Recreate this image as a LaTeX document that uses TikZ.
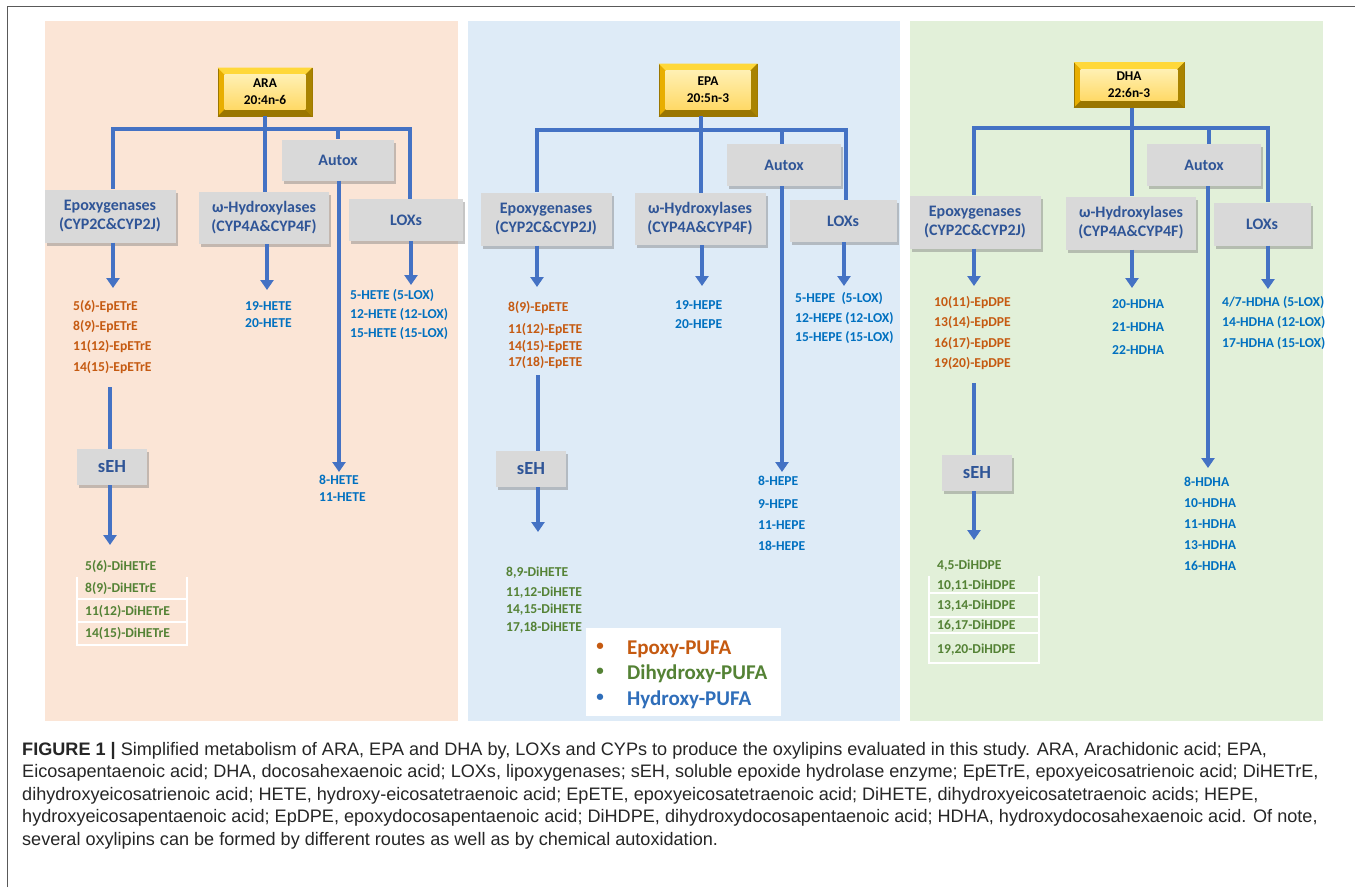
\documentclass[tikz,border=0pt]{standalone}
\usepackage{fontspec}
\setmainfont{Carlito}
\newfontfamily\capfont{Liberation Sans}
\usetikzlibrary{arrows.meta,shadows}
\definecolor{panA}{HTML}{FBE5D6}
\definecolor{panB}{HTML}{DEEBF7}
\definecolor{panC}{HTML}{E2F0D9}
\definecolor{lineblue}{HTML}{4472C4}
\definecolor{boxgray}{HTML}{D9D9D9}
\definecolor{enzblue}{HTML}{2F5597}
\definecolor{orng}{HTML}{C55A11}
\definecolor{hblue}{HTML}{0070C0}
\definecolor{grn}{HTML}{548235}
\definecolor{legblue}{HTML}{2F6EBA}
\definecolor{goldtop}{HTML}{FFD83A}
\definecolor{goldleft}{HTML}{E8AE00}
\definecolor{goldright}{HTML}{A98300}
\definecolor{goldbot}{HTML}{9A7600}
\definecolor{goldin1}{HTML}{FFF0B3}
\definecolor{goldin2}{HTML}{FFD966}
\newcommand\goldbox[5]{%
  \node[minimum width=#3pt, minimum height=#4pt, inner sep=0pt, fill=goldleft, draw=goldbot, line width=0.6pt] (#1) at #2 {};
  \fill[goldtop] (#1.north west) -- (#1.north east) -- ([shift={(-7,7)}]#1.north east) -- ([shift={(7,7)}]#1.north west) -- cycle;
  \fill[goldright] (#1.north east) -- (#1.south east) -- ([shift={(-7,-7)}]#1.south east) -- ([shift={(-7,7)}]#1.north east) -- cycle;
  \fill[goldbot] (#1.south west) -- (#1.south east) -- ([shift={(-7,-7)}]#1.south east) -- ([shift={(7,-7)}]#1.south west) -- cycle;
  \shade[top color=goldin1, bottom color=goldin2] ([shift={(7,7)}]#1.north west) rectangle ([shift={(-7,-7)}]#1.south east);
  \node[font=\bfseries\fontsize{13.4}{17}\selectfont, align=center, text=black] (#1-t) at (#1) {#5};
}
\begin{document}
\begin{tikzpicture}[x=1pt,y=-1pt,
  conn/.style={draw=lineblue, line width=4pt},
  arr/.style={conn, -{Triangle[width=13pt,length=10pt]}},
  enz/.style={fill=boxgray, text=enzblue, font=\bfseries\fontsize{16}{19}\selectfont, align=center, inner sep=0pt,
    drop shadow={shadow xshift=2pt, shadow yshift=-3pt, fill=black!50, opacity=.45}},
  seh/.style={enz, font=\bfseries\fontsize{18.5}{20}\selectfont, minimum width=70pt, minimum height=36pt},
  lst/.style={anchor=base west, inner sep=0pt, font=\bfseries\fontsize{13.6}{15}\selectfont},
  leg/.style={anchor=base west, inner sep=0pt, font=\bfseries\fontsize{21}{24}\selectfont},
  captext/.style={anchor=base west, inner sep=0pt, text=black!85, font=\capfont\fontsize{18.1}{22}\selectfont}]
\useasboundingbox (0,0) rectangle (1355,887);
\fill[white] (0,0) rectangle (1355,887);
\draw[black!65, line width=1.6pt] (7.5,887) -- (7.5,6.5) -- (1355,6.5);
% panels
\fill[panA] (45,21) rectangle (458,721);
\fill[panB] (468,21) rectangle (900,721);
\fill[panC] (910,21) rectangle (1323,721);

%================ ARA =================
\goldbox{ara}{(265,92)}{94}{48}{ARA\\20:4n-6}
\node[enz, minimum width=131pt, minimum height=53pt] (aepox) at (110,216) {Epoxygenases\\(CYP2C\&CYP2J)};
\node[enz, minimum width=130pt, minimum height=52pt] (ahyd) at (264,218) {ω-Hydroxylases\\(CYP4A\&CYP4F)};
\node[enz, minimum width=112pt, minimum height=41pt] (aaut) at (338,160) {Autox};
\node[enz, minimum width=114pt, minimum height=42pt] (alox) at (406,220) {LOXs};
\node[seh] (aseh) at (112,467) {sEH};
\coordinate (aL) at (113,129);
\coordinate (aR) at (410,129);
\coordinate (aH) at (265,129);
\coordinate (aA) at (338,129);
\draw[conn, line cap=rect] (aL) -- (aR);
\draw[conn] (ara.south -| aH) -- (aH);
\draw[conn] (aL) -- (aL |- aepox.north);
\draw[conn] (aH) -- (aH |- ahyd.north);
\draw[conn] (aA) -- (aaut.north);
\draw[conn] (aR) -- (aR |- alox.north);
\coordinate (aepT) at (113,288);
\coordinate (ahyT) at (267,290);
\coordinate (aauT) at (339,472);
\coordinate (aloT) at (411,285);
\draw[arr] (aepox.south -| aepT) -- (aepT);
\draw[arr] (ahyd.south -| ahyT) -- (ahyT);
\draw[arr] (aaut.south -| aauT) -- (aauT);
\draw[arr] (alox.south -| aloT) -- (aloT);
\coordinate (asS) at (110,387);
\coordinate (asT) at (110,545);
\draw[conn] (asS) -- (aseh.north -| asS);
\draw[arr] (aseh.south -| asT) -- (asT);
\foreach \t/\y [count=\i] in {5(6)-EpETrE/310, 8(9)-EpETrE/330, 11(12)-EpETrE/350, 14(15)-EpETrE/371}
  \node[lst, text=orng] (aep\i) at (73,\y) {\t};
\foreach \t/\y [count=\i] in {19-HETE/310, 20-HETE/327}
  \node[lst, text=hblue] (ahy\i) at (245,\y) {\t};
\foreach \t/\y [count=\i] in {5-HETE (5-LOX)/299, 12-HETE (12-LOX)/318, 15-HETE (15-LOX)/337}
  \node[lst, text=hblue] (alx\i) at (350,\y) {\t};
\foreach \t/\y [count=\i] in {8-HETE/484, 11-HETE/501}
  \node[lst, text=hblue] (aau\i) at (319,\y) {\t};
\draw[white, line width=1.2pt] (77,577) -- (77,645) -- (187,645) -- (187,577) (77,599) -- (187,599) (77,622) -- (187,622);
\foreach \t/\y [count=\i] in {5(6)-DiHETrE/570, 8(9)-DiHETrE/592, 11(12)-DiHETrE/615, 14(15)-DiHETrE/637}
  \node[lst, text=grn] (adi\i) at (85,\y) {\t};

%================ EPA =================
\goldbox{epa}{(708,90)}{98}{52}{EPA\\20:5n-3}
\node[enz, minimum width=131pt, minimum height=53pt] (bepox) at (546,219) {Epoxygenases\\(CYP2C\&CYP2J)};
\node[enz, minimum width=131pt, minimum height=52pt] (bhyd) at (700,219) {ω-Hydroxylases\\(CYP4A\&CYP4F)};
\node[enz, minimum width=114pt, minimum height=42pt] (baut) at (784,165) {Autox};
\node[enz, minimum width=107pt, minimum height=42pt] (blox) at (843,221) {LOXs};
\node[seh] (bseh) at (531,469) {sEH};
\coordinate (bL) at (537,130);
\coordinate (bR) at (846,130);
\coordinate (bH) at (701,130);
\coordinate (bA) at (782,130);
\draw[conn, line cap=rect] (bL) -- (bR);
\draw[conn] (epa.south -| bH) -- (bH);
\draw[conn] (bL) -- (bL |- bepox.north);
\draw[conn] (bH) -- (bH |- bhyd.north);
\draw[conn] (bA) -- (bA |- baut.north);
\draw[conn] (bR) -- (bR |- blox.north);
\coordinate (bepT) at (537,287);
\coordinate (bhyT) at (702,286);
\coordinate (bauT) at (782,472);
\coordinate (bloT) at (844,286);
\draw[arr] (bepox.south -| bepT) -- (bepT);
\draw[arr] (bhyd.south -| bhyT) -- (bhyT);
\draw[arr] (baut.south -| bauT) -- (bauT);
\draw[arr] (blox.south -| bloT) -- (bloT);
\coordinate (bsS) at (538,375);
\coordinate (bsT) at (538,532);
\draw[conn] (bsS) -- (bseh.north -| bsS);
\draw[arr] (bseh.south -| bsT) -- (bsT);
\foreach \t/\y [count=\i] in {8(9)-EpETE/311, 11(12)-EpETE/333, 14(15)-EpETE/350, 17(18)-EpETE/366}
  \node[lst, text=orng] (bep\i) at (508,\y) {\t};
\foreach \t/\y [count=\i] in {19-HEPE/309, 20-HEPE/328}
  \node[lst, text=hblue] (bhy\i) at (675,\y) {\t};
\foreach \t/\y [count=\i] in {5-HEPE \ (5-LOX)/302, 12-HEPE (12-LOX)/322, 15-HEPE (15-LOX)/341}
  \node[lst, text=hblue] (blx\i) at (795,\y) {\t};
\foreach \t/\y [count=\i] in {8-HEPE/485, 9-HEPE/508, 11-HEPE/529, 18-HEPE/550}
  \node[lst, text=hblue] (bau\i) at (758,\y) {\t};
\foreach \t/\y [count=\i] in {{8,9-DiHETE}/576, {11,12-DiHETE}/596, {14,15-DiHETE}/613, {17,18-DiHETE}/631}
  \node[lst, text=grn] (bdi\i) at (506,\y) {\t};
% legend
\node[fill=white, minimum width=195pt, minimum height=88pt, inner sep=0pt] (legbox) at (683.5,672) {};
\node[leg, text=orng, anchor=center, font=\bfseries\fontsize{15}{15}\selectfont] (lb1) at (600,647) {•};
\node[leg, text=grn, anchor=center, font=\bfseries\fontsize{15}{15}\selectfont] (lb2) at (600,672) {•};
\node[leg, text=legblue, anchor=center, font=\bfseries\fontsize{15}{15}\selectfont] (lb3) at (600,698) {•};
\node[leg, text=orng] (lt1) at (627,654) {Epoxy-PUFA};
\node[leg, text=grn] (lt2) at (627,679) {Dihydroxy-PUFA};
\node[leg, text=legblue] (lt3) at (627,705) {Hydroxy-PUFA};

%================ DHA =================
\goldbox{dha}{(1129,85)}{110}{45}{DHA\\22:6n-3}
\node[enz, minimum width=131pt, minimum height=53pt] (cepox) at (975,222) {Epoxygenases\\(CYP2C\&CYP2J)};
\node[enz, minimum width=130pt, minimum height=53pt] (chyd) at (1131,223) {ω-Hydroxylases\\(CYP4A\&CYP4F)};
\node[enz, minimum width=114pt, minimum height=42pt] (caut) at (1204,165) {Autox};
\node[enz, minimum width=97pt, minimum height=43pt] (clox) at (1262,224) {LOXs};
\node[seh] (cseh) at (977,473) {sEH};
\coordinate (cL) at (974,128);
\coordinate (cR) at (1268,128);
\coordinate (cH) at (1132,128);
\coordinate (cA) at (1209,128);
\draw[conn, line cap=rect] (cL) -- (cR);
\draw[conn] (dha.south -| cH) -- (cH);
\draw[conn] (cL) -- (cL |- cepox.north);
\draw[conn] (cH) -- (cH |- chyd.north);
\draw[conn] (cA) -- (cA |- caut.north);
\draw[conn] (cR) -- (cR |- clox.north);
\coordinate (cepT) at (974,286);
\coordinate (chyT) at (1132,288);
\coordinate (cauT) at (1208,468);
\coordinate (cloT) at (1268,289);
\draw[arr] (cepox.south -| cepT) -- (cepT);
\draw[arr] (chyd.south -| chyT) -- (chyT);
\draw[arr] (caut.south -| cauT) -- (cauT);
\draw[arr] (clox.south -| cloT) -- (cloT);
\coordinate (csS) at (974,383);
\coordinate (csT) at (974,540);
\draw[conn] (csS) -- (cseh.north -| csS);
\draw[arr] (cseh.south -| csT) -- (csT);
\foreach \t/\y [count=\i] in {10(11)-EpDPE/306, 13(14)-EpDPE/326, 16(17)-EpDPE/347, 19(20)-EpDPE/367}
  \node[lst, text=orng] (cep\i) at (934,\y) {\t};
\foreach \t/\y [count=\i] in {20-HDHA/308, 21-HDHA/331, 22-HDHA/354}
  \node[lst, text=hblue] (chy\i) at (1112,\y) {\t};
\foreach \t/\y [count=\i] in {{4/7-HDHA (5-LOX)}/306, {14-HDHA (12-LOX)}/326, {17-HDHA (15-LOX)}/347}
  \node[lst, text=hblue] (clx\i) at (1222,\y) {\t};
\foreach \t/\y [count=\i] in {8-HDHA/486, 10-HDHA/507, 11-HDHA/528, 13-HDHA/549, 16-HDHA/570}
  \node[lst, text=hblue] (cau\i) at (1184,\y) {\t};
\draw[white, line width=1.2pt] (929,576) -- (929,663) -- (1039,663) -- (1039,576) (929,593) -- (1039,593) (929,617) -- (1039,617) (929,633) -- (1039,633);
\foreach \t/\y [count=\i] in {{4,5-DiHDPE}/569, {10,11-DiHDPE}/589, {13,14-DiHDPE}/609, {16,17-DiHDPE}/629, {19,20-DiHDPE}/653}
  \node[lst, text=grn] (cdi\i) at (937,\y) {\t};

%================ caption =================
\node[captext] (cap1) at (22,755) {\textbf{FIGURE 1 |} Simplified metabolism of ARA, EPA and DHA by, LOXs and CYPs to produce the oxylipins evaluated in this study. ARA, Arachidonic acid; EPA,};
\node[captext] (cap2) at (22,777.5) {Eicosapentaenoic acid; DHA, docosahexaenoic acid; LOXs, lipoxygenases; sEH, soluble epoxide hydrolase enzyme; EpETrE, epoxyeicosatrienoic acid; DiHETrE,};
\node[captext] (cap3) at (22,800) {dihydroxyeicosatrienoic acid; HETE, hydroxy-eicosatetraenoic acid; EpETE, epoxyeicosatetraenoic acid; DiHETE, dihydroxyeicosatetraenoic acids; HEPE,};
\node[captext] (cap4) at (22,822.5) {hydroxyeicosapentaenoic acid; EpDPE, epoxydocosapentaenoic acid; DiHDPE, dihydroxydocosapentaenoic acid; HDHA, hydroxydocosahexaenoic acid. Of note,};
\node[captext] (cap5) at (22,845) {several oxylipins can be formed by different routes as well as by chemical autoxidation.};
\end{tikzpicture}
\end{document}
